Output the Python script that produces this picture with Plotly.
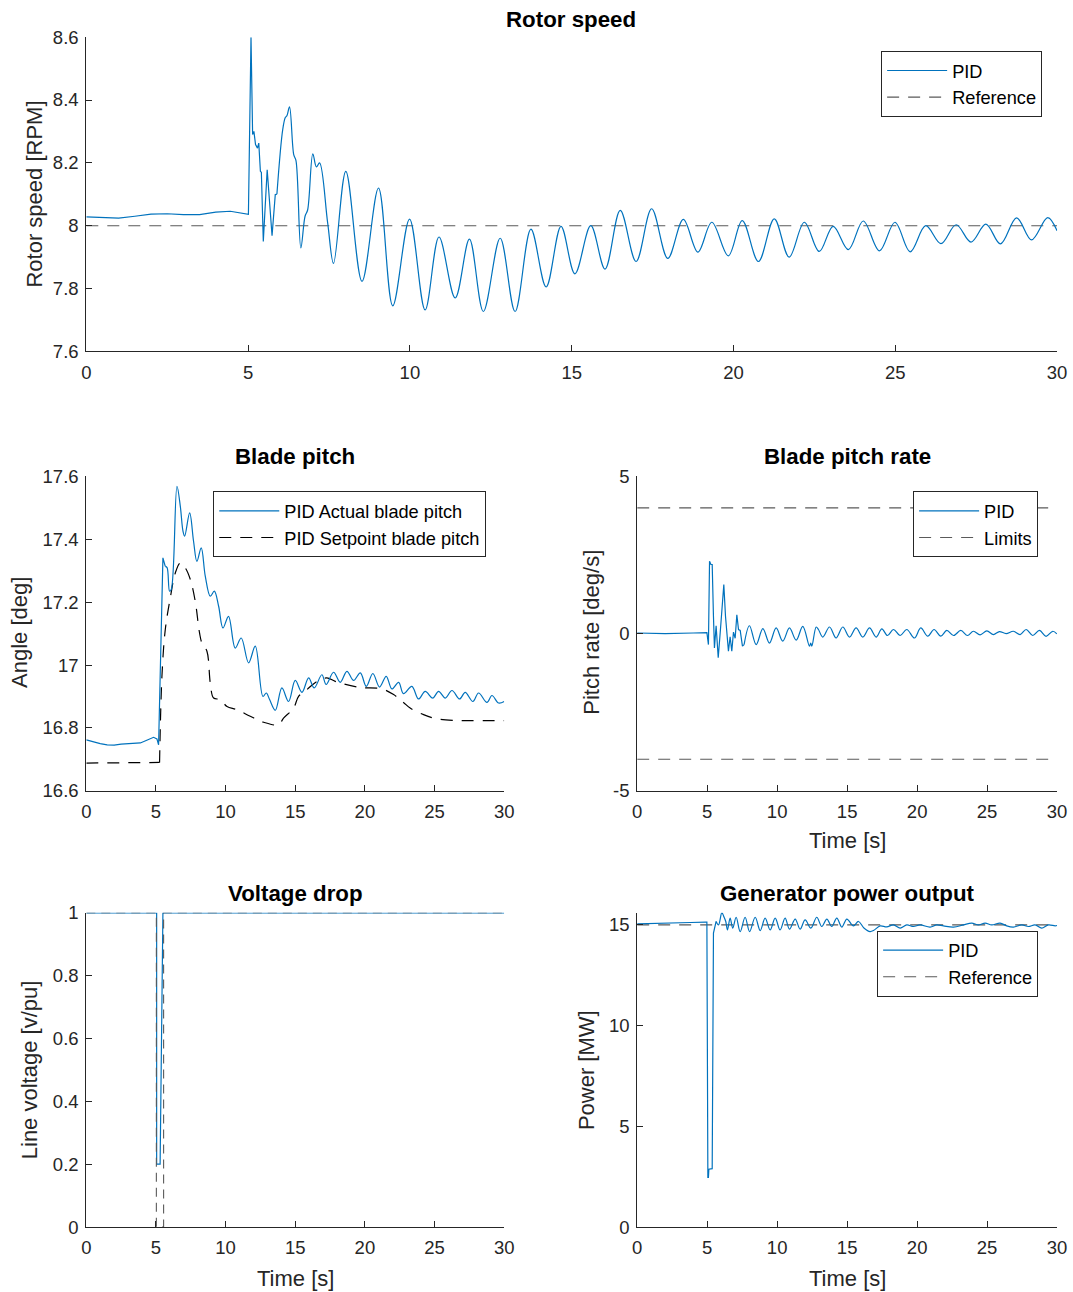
import numpy as np
import plotly.graph_objects as go

# Page geometry: the rendered page is mapped onto the 1073x1292 picture with a slight
# shrink, so positions are expressed in picture pixels and converted below.
PAGE_W, PAGE_H, BODY_MARGIN = 1088, 1311, 8
SX, SY = 1073 / PAGE_W, 1292 / PAGE_H
W, H = PAGE_W - 2 * BODY_MARGIN, PAGE_H - 2 * BODY_MARGIN
FONT = "Liberation Sans"
BLUE = "rgb(0,114,189)"
GRAY = "rgb(90,90,90)"
AX = "#262626"

# ---------------- data ----------------
# Rotor speed [RPM]
rotor_t = [0, 0.5, 1.0, 1.5, 2.0, 2.5, 3.0, 3.5, 4.0, 4.45, 5.01, 5.09, 5.14, 5.18, 5.23,
           5.29, 5.33, 5.38, 5.41, 5.47, 5.59, 5.74, 5.84, 5.89, 6.07, 6.15, 6.2, 6.28,
           6.41, 6.48, 6.63, 6.76, 6.84, 7.0, 7.11, 7.21, 7.46, 7.64, 8.02, 8.52, 9.03,
           9.47, 9.99, 10.47, 10.9, 11.4, 11.84, 12.27, 12.79, 13.25, 13.74, 14.21, 14.67,
           15.1, 15.59, 16.03, 16.5, 16.99, 17.47, 17.97, 18.45, 18.9, 19.33, 19.84, 20.27,
           20.77, 21.26, 21.72, 22.19, 22.65, 23.08, 23.55, 24.01, 24.51, 24.99, 25.46,
           25.94, 26.41, 26.88, 27.34, 27.8, 28.25, 28.75, 29.21, 29.71, 30.0]
rotor_rpm = [8.028, 8.027, 8.024, 8.030, 8.037, 8.038, 8.035, 8.035, 8.043, 8.046, 8.036,
             8.60, 8.29, 8.30, 8.258, 8.247, 8.263, 8.173, 8.17, 7.95, 8.178, 7.968, 8.099,
             8.10, 8.306, 8.344, 8.35, 8.378, 8.226, 8.207, 7.929, 8.03, 8.05, 8.229, 8.187,
             8.20, 8.008, 7.88, 8.173, 7.823, 8.12, 7.745, 8.021, 7.732, 7.964, 7.77, 7.957,
             7.727, 7.96, 7.727, 7.989, 7.805, 7.998, 7.847, 8.0, 7.862, 8.049, 7.886, 8.054,
             7.896, 8.02, 7.916, 8.011, 7.904, 8.016, 7.886, 8.022, 7.9, 8.011, 7.918, 7.998,
             7.924, 8.015, 7.92, 8.011, 7.917, 8.0, 7.943, 8.003, 7.948, 8.005, 7.942, 8.025,
             7.955, 8.026, 7.984]
rotor_ref = 8.0
ROTOR_SPLINE_FROM = 5.89

# Blade pitch [deg]
pitch_t = [0, 0.5, 1.0, 1.5, 2.0, 2.5, 3.0, 3.5, 3.88, 4.3, 4.83, 5.07, 5.19, 5.5, 5.67,
           5.8, 5.98, 6.1, 6.51, 6.75, 6.94, 7.06, 7.42, 7.7, 7.94, 8.25, 8.54, 8.9, 9.19,
           9.5, 9.81, 10.21, 10.69, 11.12, 11.65, 12.13, 12.68, 12.92, 13.16, 13.57, 14.04,
           14.52, 15.0, 15.48, 15.96, 16.36, 16.91, 17.22, 17.75, 18.23, 18.71, 19.19, 19.67,
           20.1, 20.57, 21.05, 21.53, 21.94, 22.42, 22.77, 23.37, 23.85, 24.33, 24.87, 25.29,
           25.77, 26.25, 26.8, 27.2, 27.75, 28.16, 28.76, 29.12, 29.6, 30.0]
pitch_actual = [16.762, 16.755, 16.75, 16.746, 16.745, 16.748, 16.749, 16.75, 16.752,
                16.76, 16.77, 16.765, 16.746, 17.341, 17.314, 17.31, 17.235, 17.24, 17.569,
                17.505, 17.426, 17.41, 17.484, 17.394, 17.33, 17.373, 17.283, 17.219, 17.235,
                17.187, 17.118, 17.155, 17.054, 17.086, 17.007, 17.06, 16.90, 16.911, 16.89,
                16.856, 16.927, 16.884, 16.951, 16.913, 16.959, 16.927, 16.969, 16.938,
                16.977, 16.945, 16.98, 16.951, 16.975, 16.932, 16.973, 16.93, 16.964, 16.924,
                16.945, 16.909, 16.932, 16.892, 16.916, 16.895, 16.916, 16.895, 16.919,
                16.892, 16.913, 16.884, 16.911, 16.881, 16.903, 16.879, 16.884]
PITCH_SPLINE_FROM = 5.67

setpoint_t = [0, 5.26, 5.43, 5.67, 6.03, 6.39, 6.75, 7.11, 7.47, 7.82, 8.13, 8.3, 8.66,
              8.9, 9.14, 9.62, 10.1, 10.81, 11.77, 12.73, 13.8, 14.16, 14.88, 15.24, 15.84,
              16.56, 17.27, 17.87, 19.55, 21.22, 22.06, 22.77, 23.25, 24.21, 25.05, 26.36,
              27.5, 30.0]
pitch_setpoint = [16.688, 16.69, 16.964, 17.113, 17.214, 17.293, 17.325, 17.309, 17.272,
                  17.203, 17.102, 17.07, 17.044, 16.943, 16.895, 16.89, 16.868, 16.858,
                  16.837, 16.818, 16.81, 16.831, 16.863, 16.9, 16.922, 16.948, 16.959,
                  16.948, 16.929, 16.924, 16.906, 16.881, 16.863, 16.842, 16.83, 16.824,
                  16.823, 16.823]
SETPOINT_SPLINE_FROM = 5.26

# Blade pitch rate [deg/s]
rate_t = [0, 2.0, 4.0, 4.98, 5.09, 5.17, 5.27, 5.36, 5.45, 5.52, 5.64, 5.79, 5.93, 6.05,
          6.19, 6.31, 6.4, 6.52, 6.64, 6.76, 6.88, 7.0, 7.12, 7.24, 7.36, 7.52, 7.64, 8.02,
          8.5, 8.98, 9.45, 9.93, 10.4, 10.88, 11.36, 11.83, 12.31, 12.4, 12.48, 12.79,
          12.95, 13.26, 13.74, 14.21, 14.69, 15.17, 15.64, 16.12, 16.6, 17.07, 17.48, 17.88,
          18.31, 18.79, 19.26, 19.81, 20.26, 20.76, 21.21, 21.69, 22.12, 22.6, 23.12, 23.6,
          24.02, 24.5, 24.98, 25.45, 25.88, 26.36, 26.88, 27.36, 27.79, 28.26, 28.74, 29.21,
          29.69, 29.98]
rate_values = [0.02, 0.0, 0.02, 0.03, -0.35, 2.30, 2.2, 2.2, 0.55, -0.46, 0.25, -0.77,
               0.02, 0.71, 1.56, 0.55, 0.0, -0.56, -0.1, -0.56, 0.05, -0.15, 0.6, 0.13, 0.1,
               -0.40, -0.35, 0.25, -0.35, 0.16, -0.30, 0.18, -0.24, 0.18, -0.21, 0.23, -0.40,
               -0.3, -0.40, 0.21, 0.13, -0.11, 0.21, -0.14, 0.21, -0.11, 0.18, -0.11, 0.18,
               -0.11, 0.15, -0.06, 0.13, -0.06, 0.13, -0.14, 0.18, -0.08, 0.13, -0.08, 0.10,
               -0.06, 0.10, -0.06, 0.074, -0.04, 0.085, -0.03, 0.064, 0.0, 0.074, -0.03, 0.13,
               -0.06, 0.10, -0.085, 0.074, -0.01]
RATE_SPLINE_FROM = 7.64
rate_limits = [4, -4]

# Voltage drop [v/pu]
volt_t = [0, 5.05, 5.05, 5.3, 5.5, 30]
volt_values = [1, 1, 0.2, 0.2, 1, 1]
volt_ref_t = [0, 5.03, 5.03, 5.55, 5.55, 30]
volt_ref = [1, 1, 0, 0, 1, 1]

# Generator power [MW]
power_t = [0, 1, 2, 3, 3.8, 4.9, 4.98, 5.05, 5.09, 5.12, 5.3, 5.36, 5.45, 5.64, 5.81,
           6.05, 6.17, 6.33, 6.45, 6.64, 6.83, 7.07, 7.36, 7.71, 8.03, 8.43, 8.79, 9.14,
           9.5, 9.86, 10.21, 10.57, 10.88, 11.29, 11.64, 12.0, 12.41, 12.83, 13.19, 13.55,
           13.9, 14.26, 14.62, 14.98, 15.45, 15.81, 16.2, 16.64, 16.88, 17.36, 17.83, 18.31,
           18.79, 19.26, 19.74, 20.21, 20.93, 21.4, 21.88, 22.6, 23.31, 23.9, 24.38, 24.86,
           25.33, 25.93, 26.4, 26.88, 27.48, 27.95, 28.43, 28.9, 29.38, 29.86, 30.0]
power_values = [15.05, 15.06, 15.08, 15.1, 15.12, 15.14, 15.14, 2.47, 2.47, 2.87, 2.87,
                2.9, 14.59, 15.17, 15.0, 15.61, 15.45, 15.17, 14.75, 15.34, 14.84, 15.38,
                14.67, 15.38, 14.67, 15.38, 14.72, 15.34, 14.75, 15.34, 14.75, 15.34, 14.79,
                15.29, 14.79, 15.25, 14.84, 15.38, 14.92, 15.29, 14.92, 15.34, 14.89, 15.29,
                14.95, 15.17, 14.85, 14.67, 14.72, 14.95, 14.9, 15.0, 14.84, 15.0, 14.92,
                15.0, 14.89, 15.0, 14.95, 14.89, 15.0, 15.09, 15.0, 15.09, 15.0, 15.09, 14.95,
                14.89, 15.0, 14.92, 15.0, 14.84, 15.0, 14.95, 14.97]
POWER_SPLINE_FROM = 5.64
power_ref = 15.0

# ---------------- figure ----------------
fig = go.Figure()
DASH = "12px,9px"


def add_split(t, v, split, xa, ya, name, legend, color, width, dash=None, rank=1,
              showlegend=True):
    t = np.asarray(t, dtype=float)
    v = np.asarray(v, dtype=float)
    lin = t <= split
    spl = t >= split
    group = f"{legend}-{name}"
    fig.add_trace(go.Scatter(
        x=t[lin], y=v[lin], mode="lines", name=name, legend=legend, legendgroup=group,
        legendrank=rank, showlegend=showlegend, xaxis=xa, yaxis=ya, hoverinfo="skip",
        line=dict(color=color, width=width, dash=dash, shape="linear")))
    fig.add_trace(go.Scatter(
        x=t[spl], y=v[spl], mode="lines", name=name, legend=legend, legendgroup=group,
        legendrank=rank, showlegend=False, xaxis=xa, yaxis=ya, hoverinfo="skip",
        line=dict(color=color, width=width, dash=dash, shape="spline", smoothing=1)))


def add_hline(value, xa, ya, name, legend, rank, showlegend=True):
    fig.add_trace(go.Scatter(
        x=[0, 30], y=[value, value], mode="lines", name=name, legend=legend,
        legendrank=rank, showlegend=showlegend, xaxis=xa, yaxis=ya, hoverinfo="skip",
        line=dict(color=GRAY, width=1.1, dash=DASH)))


# Rotor speed
add_hline(rotor_ref, "x", "y", "Reference", "legend", 2)
add_split(rotor_t, rotor_rpm, ROTOR_SPLINE_FROM, "x", "y", "PID", "legend", BLUE, 1.2)

# Blade pitch
add_split(setpoint_t, pitch_setpoint, SETPOINT_SPLINE_FROM, "x2", "y2",
          "PID Setpoint blade pitch", "legend2", "black", 1.2, dash=DASH, rank=2)
add_split(pitch_t, pitch_actual, PITCH_SPLINE_FROM, "x2", "y2",
          "PID Actual blade pitch", "legend2", BLUE, 1.2, rank=1)

# Pitch rate
lim_x, lim_y = [], []
for lim in rate_limits:
    lim_x += [0, 30, None]
    lim_y += [lim, lim, None]
fig.add_trace(go.Scatter(x=lim_x, y=lim_y, mode="lines", name="Limits", legend="legend3",
                         legendrank=2, xaxis="x3", yaxis="y3", hoverinfo="skip",
                         line=dict(color=GRAY, width=1.1, dash=DASH)))
add_split(rate_t, rate_values, RATE_SPLINE_FROM, "x3", "y3", "PID", "legend3", BLUE, 1.2)

# Voltage drop
fig.add_trace(go.Scatter(x=volt_t, y=volt_values, mode="lines", showlegend=False,
                         xaxis="x4", yaxis="y4", hoverinfo="skip",
                         line=dict(color=BLUE, width=1.2)))
fig.add_trace(go.Scatter(x=volt_ref_t, y=volt_ref, mode="lines", showlegend=False,
                         xaxis="x4", yaxis="y4", hoverinfo="skip",
                         line=dict(color=GRAY, width=1.1, dash="9px,6px")))

# Power
add_hline(power_ref, "x5", "y5", "Reference", "legend4", 2)
add_split(power_t, power_values, POWER_SPLINE_FROM, "x5", "y5", "PID", "legend4", BLUE, 1.2)


# ---------------- layout ----------------
# residual calibration of the picture mapping (measured from a previous render)
CAL_X_SHIFT = 3.2
CAL_Y_A, CAL_Y_B = 0.9975, 4.0


def px_x(p):
    p = p + CAL_X_SHIFT
    return (p / SX - BODY_MARGIN) / W


def px_y(p):
    p = (p - CAL_Y_B) / CAL_Y_A
    return 1 - (p / SY - BODY_MARGIN) / H


XL, XR = px_x(86), px_x(1057)
XL2, XR2 = px_x(86), px_x(504)
XL3 = px_x(637)
Y1 = [px_y(352), px_y(38)]
Y2 = [px_y(791), px_y(477)]
Y3 = [px_y(1227), px_y(913)]

tickfont = dict(family=FONT, size=18.5, color=AX)
axis_common = dict(showgrid=False, zeroline=False, showline=True, linecolor=AX,
                   linewidth=1, ticks="inside", ticklen=6, tickcolor=AX, tickwidth=1,
                   mirror=False, tickfont=tickfont, fixedrange=True)

xt = dict(tickvals=[0, 5, 10, 15, 20, 25, 30], range=[0, 30], ticklabelstandoff=4)
YSO = 3

fig.update_layout(
    width=W, height=H, margin=dict(l=0, r=0, t=0, b=0),
    paper_bgcolor="white", plot_bgcolor="white",
    font=dict(family=FONT, color=AX),
    xaxis=dict(domain=[XL, XR], anchor="y", **xt, **axis_common),
    yaxis=dict(domain=Y1, anchor="x", range=[7.6, 8.6], tickvals=[7.6, 7.8, 8, 8.2, 8.4, 8.6],
               ticktext=["7.6", "7.8", "8", "8.2", "8.4", "8.6"], ticklabelstandoff=YSO,
               **axis_common),
    xaxis2=dict(domain=[XL2, XR2], anchor="y2", **xt, **axis_common),
    yaxis2=dict(domain=Y2, anchor="x2", range=[16.6, 17.6],
                tickvals=[16.6, 16.8, 17, 17.2, 17.4, 17.6],
                ticktext=["16.6", "16.8", "17", "17.2", "17.4", "17.6"],
                ticklabelstandoff=YSO, **axis_common),
    xaxis3=dict(domain=[XL3, XR], anchor="y3", **xt, **axis_common),
    yaxis3=dict(domain=Y2, anchor="x3", range=[-5, 5], tickvals=[-5, 0, 5],
                ticktext=["-5", "0", "5"], ticklabelstandoff=YSO, **axis_common),
    xaxis4=dict(domain=[XL2, XR2], anchor="y4", **xt, **axis_common),
    yaxis4=dict(domain=Y3, anchor="x4", range=[0, 1], tickvals=[0, 0.2, 0.4, 0.6, 0.8, 1],
                ticktext=["0", "0.2", "0.4", "0.6", "0.8", "1"], ticklabelstandoff=YSO,
                **axis_common),
    xaxis5=dict(domain=[XL3, XR], anchor="y5", **xt, **axis_common),
    yaxis5=dict(domain=Y3, anchor="x5", range=[0, 15.6], tickvals=[0, 5, 10, 15],
                ticktext=["0", "5", "10", "15"], ticklabelstandoff=YSO, **axis_common),
)

legend_common = dict(bgcolor="white", bordercolor=AX, borderwidth=1,
                     font=dict(family=FONT, size=18.2, color="black"),
                     xanchor="left", yanchor="top", traceorder="normal",
                     itemwidth=60, tracegroupgap=0, itemclick=False, itemdoubleclick=False)
fig.update_layout(
    legend=dict(x=px_x(881), y=px_y(52), **legend_common),
    legend2=dict(x=px_x(213), y=px_y(492), **legend_common),
    legend3=dict(x=px_x(913), y=px_y(492), **legend_common),
    legend4=dict(x=px_x(877), y=px_y(931), **legend_common),
)

# Titles and axis labels
titles = [("Rotor speed", 571, 20), ("Blade pitch", 295, 457),
          ("Blade pitch rate", 847, 457), ("Voltage drop", 295, 894),
          ("Generator power output", 847, 894)]
for text, x, y in titles:
    fig.add_annotation(text=f"<b>{text}</b>", x=px_x(x), y=px_y(y), xref="paper",
                       yref="paper", showarrow=False, xanchor="center", yanchor="middle",
                       font=dict(family=FONT, size=22.3, color="black"))

ylabels = [("Rotor speed [RPM]", 34, 195), ("Angle [deg]", 19, 633),
           ("Pitch rate [deg/s]", 591, 633), ("Line voltage [v/pu]", 30, 1070),
           ("Power [MW]", 587, 1070)]
for text, x, y in ylabels:
    fig.add_annotation(text=text, x=px_x(x), y=px_y(y), xref="paper", yref="paper",
                       showarrow=False, xanchor="center", yanchor="middle", textangle=-90,
                       font=dict(family=FONT, size=22, color=AX))

xlabels = [("Time [s]", 847, 841), ("Time [s]", 295, 1278), ("Time [s]", 847, 1278)]
for text, x, y in xlabels:
    fig.add_annotation(text=text, x=px_x(x), y=px_y(y), xref="paper", yref="paper",
                       showarrow=False, xanchor="center", yanchor="middle",
                       font=dict(family=FONT, size=22, color=AX))

fig.write_html("out.html")
